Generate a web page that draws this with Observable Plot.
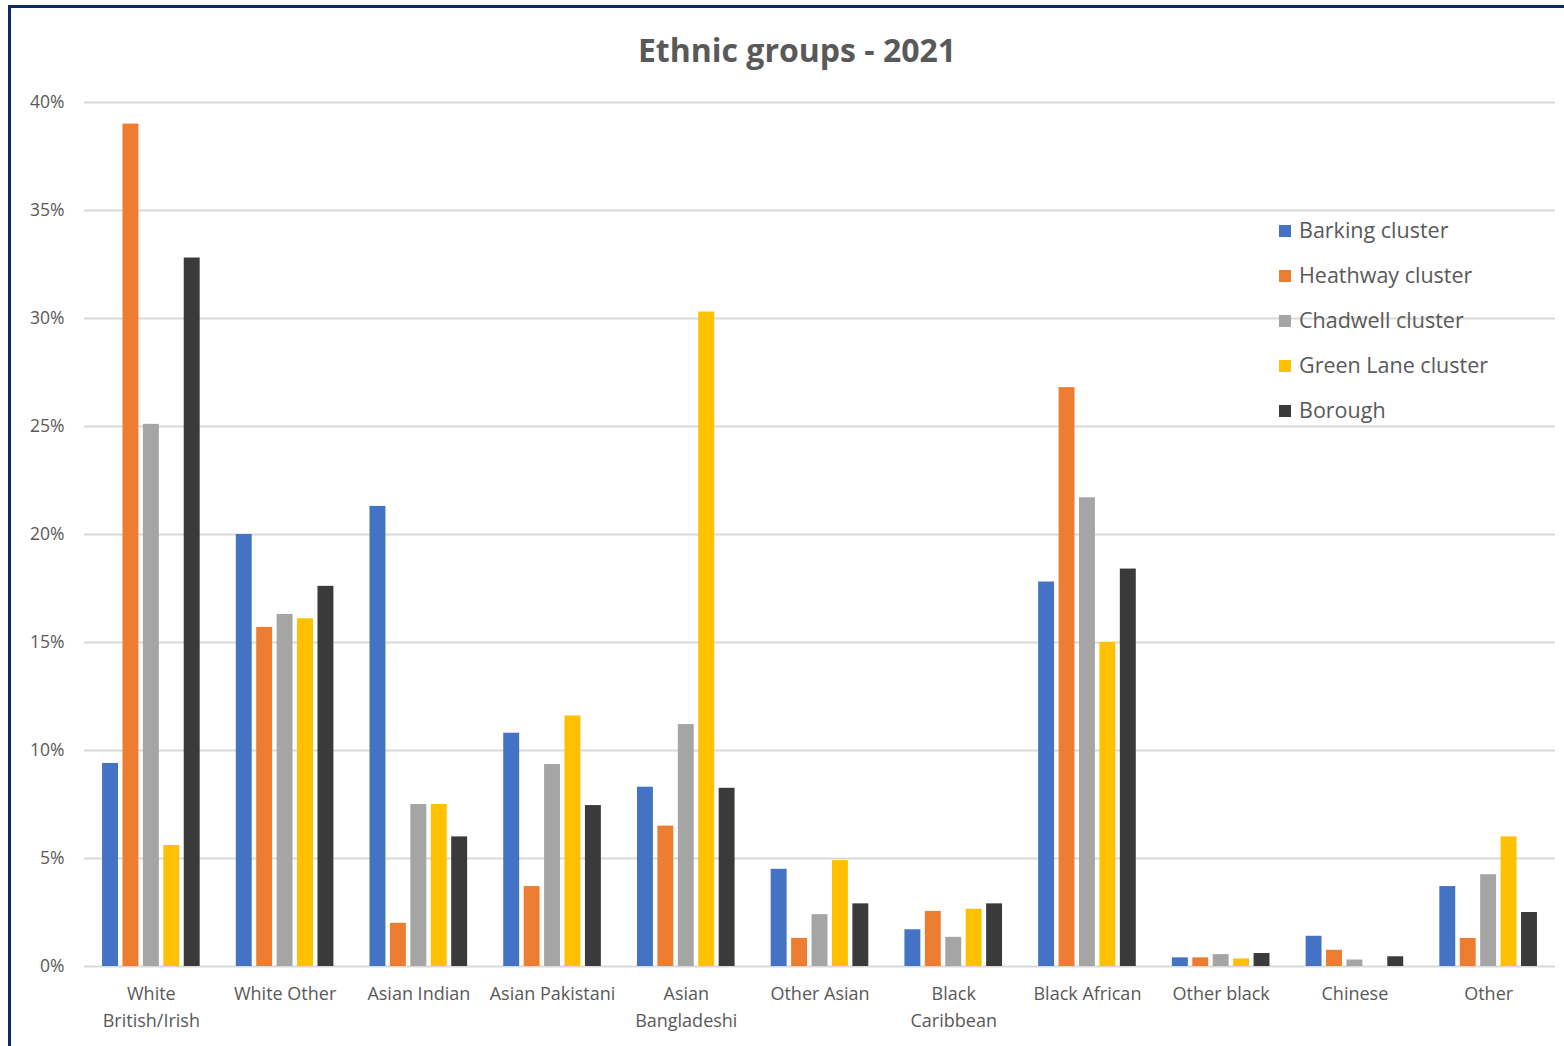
<!DOCTYPE html>
<html>
<head>
<meta charset="utf-8">
<script src="https://cdn.jsdelivr.net/npm/d3@7"></script>
<script src="https://cdn.jsdelivr.net/npm/@observablehq/plot@0.6"></script>
<style>
  html, body { margin: 0; padding: 0; background: #fff; }
  #wrap { position: relative; width: 1564px; height: 1046px; overflow: hidden; font-family: "Open Sans", sans-serif; color: #595959; }
  #border { position: absolute; left: 8px; top: 5px; width: 1600px; height: 1100px; border-left: 3px solid #0d2a6b; border-top: 3px solid #0d2a6b; box-sizing: border-box; }
  #title { position: absolute; left: 0; width: 1594px; top: 28px; text-align: center; font-size: 32px; font-weight: bold; color: #595959; }
  .layer { position: absolute; left: 0; top: 0; }
  #legend { position: absolute; left: 1279px; top: 215px; font-size: 21.5px; color: #595959; }
  #legend .item { height: 45px; display: flex; align-items: flex-start; }
  #legend .sw { width: 12px; height: 12px; margin-right: 8px; margin-top: 10px; }
</style>
</head>
<body>
<div id="wrap">
  <div id="border"></div>
  <div id="grid" class="layer"></div>
  <div id="chart" class="layer"></div>
  <div id="title">Ethnic groups - 2021</div>
  <div id="legend"></div>
</div>
<script>
const categories = ["White British/Irish", "White Other", "Asian Indian", "Asian Pakistani", "Asian Bangladeshi", "Other Asian", "Black Caribbean", "Black African", "Other black", "Chinese", "Other"];
const categoryLabels = ["White\nBritish/Irish", "White Other", "Asian Indian", "Asian Pakistani", "Asian\nBangladeshi", "Other Asian", "Black\nCaribbean", "Black African", "Other black", "Chinese", "Other"];
const series = ["Barking cluster", "Heathway cluster", "Chadwell cluster", "Green Lane cluster", "Borough"];
const seriesColors = ["#4472c4", "#ed7d31", "#a5a5a5", "#ffc000", "#3a3a3a"];

const barking   = [9.4, 20.0, 21.3, 10.8, 8.3, 4.5, 1.7, 17.8, 0.4, 1.4, 3.7];
const heathway  = [39.0, 15.7, 2.0, 3.7, 6.5, 1.3, 2.55, 26.8, 0.4, 0.75, 1.3];
const chadwell  = [25.1, 16.3, 7.5, 9.35, 11.2, 2.4, 1.35, 21.7, 0.55, 0.3, 4.25];
const greenLane = [5.6, 16.1, 7.5, 11.6, 30.3, 4.9, 2.65, 15.0, 0.35, 0, 6.0];
const borough   = [32.8, 17.6, 6.0, 7.45, 8.25, 2.9, 2.9, 18.4, 0.6, 0.45, 2.5];

const yTicks = [0, 5, 10, 15, 20, 25, 30, 35, 40];

const seriesValues = [barking, heathway, chadwell, greenLane, borough];
const data = [];
categories.forEach((c, i) => {
  series.forEach((s, j) => data.push({category: c, series: s, value: seriesValues[j][i]}));
});
const labelOf = new Map(categories.map((c, i) => [c, categoryLabels[i]]));

const frame = {
  width: 1564,
  height: 1046,
  marginTop: 102,
  marginBottom: 80,
  marginLeft: 84,
  marginRight: 9
};
const font = {fontFamily: "Open Sans, sans-serif", color: "#595959", background: "transparent"};

// Background layer: continuous gridlines and y axis
const grid = Plot.plot({
  ...frame,
  style: font,
  y: {domain: [0, 40], label: null},
  marks: [
    Plot.ruleY(yTicks, {stroke: "#d9d9d9", strokeWidth: 2}),
    Plot.axisY({ticks: yTicks, tickFormat: d => d + "%", tickSize: 0, tickPadding: 20, fontSize: 17.5, fill: "#595959", label: null})
  ]
});
document.getElementById("grid").appendChild(grid);

// Foreground layer: grouped bars
const chart = Plot.plot({
  ...frame,
  style: font,
  fx: {domain: categories, paddingInner: 0.27, paddingOuter: 0.135, round: false, label: null},
  x: {domain: series, paddingInner: 0.22, paddingOuter: 0, round: false, axis: null},
  y: {domain: [0, 40], label: null, axis: null},
  color: {domain: series, range: seriesColors},
  marks: [
    Plot.axisFx({anchor: "bottom", tickSize: 0, tickPadding: 14, fontSize: 18, lineHeight: 1.5, fill: "#595959", tickFormat: d => labelOf.get(d), label: null}),
    Plot.barY(data, {fx: "category", x: "series", y: "value", fill: "series"})
  ]
});
document.getElementById("chart").appendChild(chart);

const legend = document.getElementById("legend");
series.forEach((s, j) => {
  const item = document.createElement("div");
  item.className = "item";
  const sw = document.createElement("div");
  sw.className = "sw";
  sw.style.background = seriesColors[j];
  const t = document.createElement("span");
  t.textContent = s;
  item.appendChild(sw);
  item.appendChild(t);
  legend.appendChild(item);
});
</script>
</body>
</html>
